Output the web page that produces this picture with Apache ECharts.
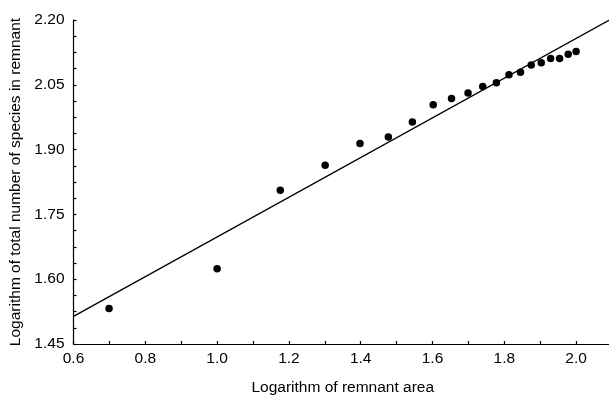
<!DOCTYPE html>
<html>
<head>
<meta charset="utf-8">
<script src="https://cdn.jsdelivr.net/npm/echarts@6/dist/echarts.min.js"></script>
<style>html,body{margin:0;padding:0;background:#fff}#c{width:609px;height:398px}</style>
</head>
<body>
<div id="c"></div>
<script>
// Log10 of remnant area (x) and log10 of total species count (y)
const logArea = [0.699, 1.000, 1.176, 1.301, 1.398, 1.477, 1.544, 1.602, 1.653, 1.699, 1.740, 1.778, 1.813, 1.845, 1.875, 1.903, 1.929, 1.954, 1.978, 2.000];
const logSpecies = [1.532, 1.624, 1.806, 1.864, 1.914, 1.929, 1.964, 2.004, 2.018, 2.031, 2.046, 2.055, 2.073, 2.079, 2.096, 2.101, 2.111, 2.111, 2.121, 2.127];
// Fitted line endpoints (as read)
const fitX = [0.6, 2.1];
const fitY = [1.514, 2.203];
const xTitle = 'Logarithm of remnant area';
const yTitle = 'Logarithm of total number of species in remnant';

const font = 'Liberation Sans, Arial, Helvetica, sans-serif';
const chart = echarts.init(document.getElementById('c'), null, {renderer: 'canvas'});
chart.setOption({
  animation: false,
  backgroundColor: '#fff',
  grid: {left: 73.5, right: -3, top: 20, bottom: 54, containLabel: false, outerBoundsMode: 'none'},
  xAxis: {
    type: 'value', min: 0.6, max: 2.1, interval: 0.2,
    name: xTitle, nameLocation: 'middle', nameGap: 36,
    nameTextStyle: {color: '#000', fontSize: 15.5, fontFamily: font},
    axisLine: {show: true, onZero: false, lineStyle: {color: '#000', width: 1.2}},
    axisTick: {show: true, inside: true, length: 3, lineStyle: {color: '#000', width: 1.2}},
    minorTick: {show: true, splitNumber: 2, length: 3, lineStyle: {color: '#000', width: 1.2}},
    axisLabel: {color: '#000', fontSize: 15.5, fontFamily: font, margin: 7, showMaxLabel: false,
      formatter: v => v.toFixed(1)},
    splitLine: {show: false}
  },
  yAxis: {
    type: 'value', min: 1.45, max: 2.2, interval: 0.15,
    name: yTitle, nameLocation: 'middle', nameGap: 49, nameRotate: 90,
    nameTextStyle: {color: '#000', fontSize: 15.5, fontFamily: font},
    axisLine: {show: true, onZero: false, lineStyle: {color: '#000', width: 1.2}},
    axisTick: {show: true, inside: true, length: 3, lineStyle: {color: '#000', width: 1.2}},
    minorTick: {show: true, splitNumber: 4, length: 3, lineStyle: {color: '#000', width: 1.2}},
    axisLabel: {color: '#000', fontSize: 15.5, fontFamily: font, margin: 9,
      formatter: v => v.toFixed(2)},
    splitLine: {show: false}
  },
  series: [
    {
      type: 'line',
      data: fitX.map((x, i) => [x, fitY[i]]),
      showSymbol: false, symbol: 'none',
      lineStyle: {color: '#000', width: 1.3},
      clip: true, z: 2
    },
    {
      type: 'scatter',
      data: logArea.map((x, i) => [x, logSpecies[i]]),
      symbol: 'circle', symbolSize: 7.5,
      itemStyle: {color: '#000', opacity: 1},
      z: 3
    }
  ]
});
</script>
</body>
</html>
